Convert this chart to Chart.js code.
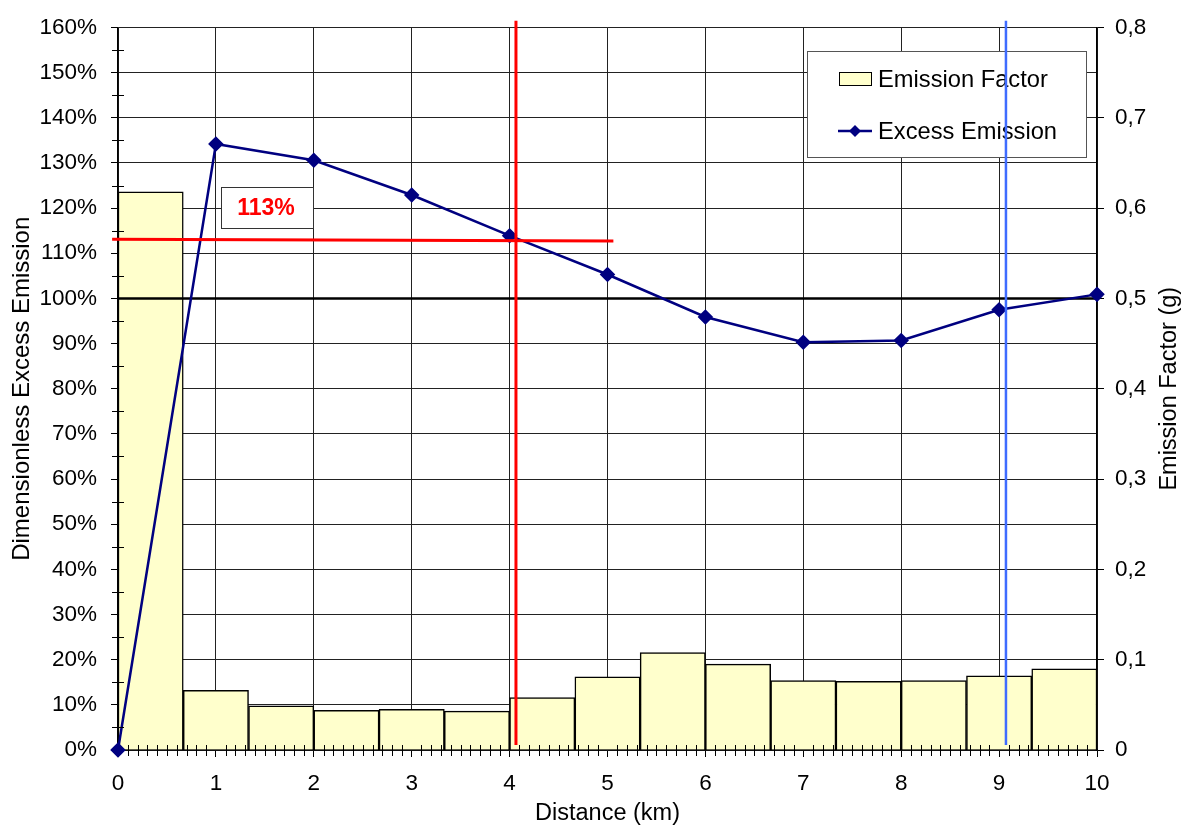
<!DOCTYPE html>
<html><head><meta charset="utf-8">
<script src="https://cdn.jsdelivr.net/npm/chart.js@4/dist/chart.umd.min.js"></script>
<style>html,body{margin:0;padding:0;background:#fff;}#wrap{width:1185px;height:827px;position:relative;}</style>
</head><body><div id="wrap"><canvas id="c"></canvas></div>
<script>
// ---- data ----
const distanceKm = [0, 1, 2, 3, 4, 5, 6, 7, 8, 9, 10];
const excessEmissionPct = [0, 134.2, 130.6, 122.9, 113.9, 105.3, 95.9, 90.3, 90.7, 97.5, 100.9];
const binLabels = ['0-0.67','0.67-1.33','1.33-2','2-2.67','2.67-3.33','3.33-4','4-4.67','4.67-5.33','5.33-6','6-6.67','6.67-7.33','7.33-8','8-8.67','8.67-9.33','9.33-10'];
const emissionFactorG = [0.618, 0.066, 0.049, 0.044, 0.045, 0.043, 0.058, 0.081, 0.108, 0.095, 0.077, 0.076, 0.077, 0.082, 0.090];
const referenceLevelPct = 100;
const redMarkerKm = 4.065;
const blueMarkerKm = 9.07;
const redLevelKm = [-0.06, 5.06];
const redLevelPct = [113.1, 112.7];
const verticalSpanPct = [1.1, 161.5];
const annotationText = '113%';
const seriesNames = ['Emission Factor', 'Excess Emission'];
const axisTitles = { x: 'Distance (km)', left: 'Dimensionless Excess Emission', right: 'Emission Factor (g)' };

const FONT = '"Liberation Sans", Arial, sans-serif';
const NAVY = '#000080';
const BAR_FILL = '#FFFFCC';

const pts = (xs, ys) => xs.map((x, i) => ({ x: x, y: ys[i] }));

const extras = {
  id: 'extras',
  beforeDraw(chart) {
    const ctx = chart.ctx;
    ctx.save(); ctx.fillStyle = '#fff'; ctx.fillRect(0, 0, chart.width, chart.height); ctx.restore();
  },
  beforeDatasetsDraw(chart) {
    const ctx = chart.ctx;
    ctx.save();
    // annotation box
    ctx.fillStyle = '#fff'; ctx.strokeStyle = '#333'; ctx.lineWidth = 1;
    ctx.fillRect(221, 187, 92, 41); ctx.strokeRect(221.5, 187.5, 92, 41);
    ctx.fillStyle = '#ff0000'; ctx.font = 'bold 23px ' + FONT;
    ctx.textAlign = 'center'; ctx.textBaseline = 'middle';
    ctx.fillText(annotationText, 266, 209);
    // legend
    ctx.fillStyle = '#fff'; ctx.strokeStyle = '#555';
    ctx.fillRect(807, 51, 279, 106); ctx.strokeRect(807.5, 51.5, 279, 106);
    ctx.fillStyle = BAR_FILL; ctx.strokeStyle = '#000'; ctx.lineWidth = 1;
    ctx.fillRect(839, 72, 33, 14); ctx.strokeRect(839.5, 72.5, 32, 13);
    ctx.strokeStyle = NAVY; ctx.lineWidth = 2.5;
    ctx.beginPath(); ctx.moveTo(838, 131); ctx.lineTo(872, 131); ctx.stroke();
    ctx.fillStyle = NAVY; ctx.beginPath();
    ctx.moveTo(855, 125); ctx.lineTo(861, 131); ctx.lineTo(855, 137); ctx.lineTo(849, 131); ctx.closePath(); ctx.fill();
    ctx.fillStyle = '#000'; ctx.font = '23.7px ' + FONT; ctx.textAlign = 'left'; ctx.textBaseline = 'middle';
    ctx.fillText(seriesNames[0], 878, 80);
    ctx.fillText(seriesNames[1], 878, 132);
    ctx.restore();
  },
  afterDraw(chart) {
    const ctx = chart.ctx, xs = chart.scales.x, ys = chart.scales.y;
    ctx.save();
    ctx.strokeStyle = '#000'; ctx.lineWidth = 1;
    ctx.beginPath();
    for (let i = 1; i < 100; i++) {
      if (i % 10 === 0) continue;
      const px = Math.round(xs.getPixelForValue(i / 10)) + 0.5;
      ctx.moveTo(px, 745); ctx.lineTo(px, 756);
    }
    for (let v = 5; v < 160; v += 10) {
      const py = Math.round(ys.getPixelForValue(v)) + 0.5;
      ctx.moveTo(112, py); ctx.lineTo(124, py);
    }
    ctx.stroke();
    // right axis title (reads bottom to top)
    ctx.translate(1170, (chart.chartArea.top + chart.chartArea.bottom) / 2);
    ctx.rotate(-Math.PI / 2);
    ctx.fillStyle = '#000'; ctx.font = '23.5px ' + FONT; ctx.textAlign = 'center'; ctx.textBaseline = 'middle';
    ctx.fillText(axisTitles.right, 0, 0);
    ctx.restore();
  }
};

new Chart(document.getElementById('c'), {
  type: 'line',
  data: {
    labels: binLabels,
    datasets: [
      { type: 'line', label: 'red-v', data: pts([redMarkerKm, redMarkerKm], verticalSpanPct), xAxisID: 'x', yAxisID: 'y',
        borderColor: '#ff0000', borderWidth: 3, pointRadius: 0, clip: false, order: 0 },
      { type: 'line', label: 'blue-v', data: pts([blueMarkerKm, blueMarkerKm], verticalSpanPct), xAxisID: 'x', yAxisID: 'y',
        borderColor: '#3f6cff', borderWidth: 2.5, pointRadius: 0, clip: false, order: 0 },
      { type: 'line', label: 'red-h', data: pts(redLevelKm, redLevelPct), xAxisID: 'x', yAxisID: 'y',
        borderColor: '#ff0000', borderWidth: 3, pointRadius: 0, clip: false, order: 0 },
      { type: 'line', label: seriesNames[1], data: pts(distanceKm, excessEmissionPct), xAxisID: 'x', yAxisID: 'y',
        borderColor: NAVY, backgroundColor: NAVY, borderWidth: 2.5, pointStyle: 'rectRot', pointRadius: 6,
        pointBackgroundColor: NAVY, pointBorderColor: NAVY, tension: 0, clip: false, order: 1 },
      { type: 'line', label: 'ref', data: pts([distanceKm[0], distanceKm[distanceKm.length - 1]], [referenceLevelPct, referenceLevelPct]),
        xAxisID: 'x', yAxisID: 'y', borderColor: '#000', borderWidth: 2.5, pointRadius: 0, order: 2 },
      { type: 'bar', label: seriesNames[0], data: emissionFactorG, xAxisID: 'x2', yAxisID: 'y2',
        backgroundColor: BAR_FILL, borderColor: '#000', borderWidth: 1.5, borderSkipped: 'bottom',
        barPercentage: 1, categoryPercentage: 1, grouped: false, order: 3 }
    ]
  },
  options: {
    responsive: true, maintainAspectRatio: false, animation: false,
    layout: { padding: { top: 22, left: 0, right: 0, bottom: 0 } },
    plugins: { legend: { display: false }, tooltip: { enabled: false } },
    scales: {
      x: { type: 'linear', position: 'bottom', min: 0, max: 10, offset: false,
        ticks: { stepSize: 1, padding: 13, color: '#000', font: { family: FONT, size: 22.5 } },
        grid: { color: '#222', lineWidth: 1, tickLength: 7, tickColor: '#000', offset: false },
        border: { color: '#000', width: 1.5 },
        title: { display: true, text: axisTitles.x, color: '#000', font: { family: FONT, size: 23.5, lineHeight: 1 }, padding: { top: 0, bottom: 2 } },
        afterFit: s => { s.height = 77; } },
      x2: { type: 'category', display: false, offset: true, grid: { display: false, offset: true } },
      y: { type: 'linear', position: 'left', min: 0, max: 160,
        ticks: { stepSize: 10, padding: 14, color: '#000', font: { family: FONT, size: 22.5 }, callback: v => v + '%' },
        grid: { color: '#222', lineWidth: 1, tickLength: 7, tickColor: '#000' },
        border: { color: '#000', width: 1.5 },
        title: { display: true, text: axisTitles.left, color: '#000', font: { family: FONT, size: 24 }, padding: { top: 8, bottom: 0 } },
        afterFit: s => { s.width = 118; } },
      y2: { type: 'linear', position: 'right', min: 0, max: 0.8,
        ticks: { stepSize: 0.1, padding: 11, color: '#000', font: { family: FONT, size: 22.5 },
          callback: v => (Math.abs(v) < 1e-9 ? '0' : v.toFixed(1).replace('.', ',')) },
        grid: { drawOnChartArea: false, tickLength: 7, tickColor: '#000' },
        border: { color: '#000', width: 1.5 },
        afterFit: s => { s.width = 88; } }
    }
  },
  plugins: [extras]
});
</script>
</body></html>
